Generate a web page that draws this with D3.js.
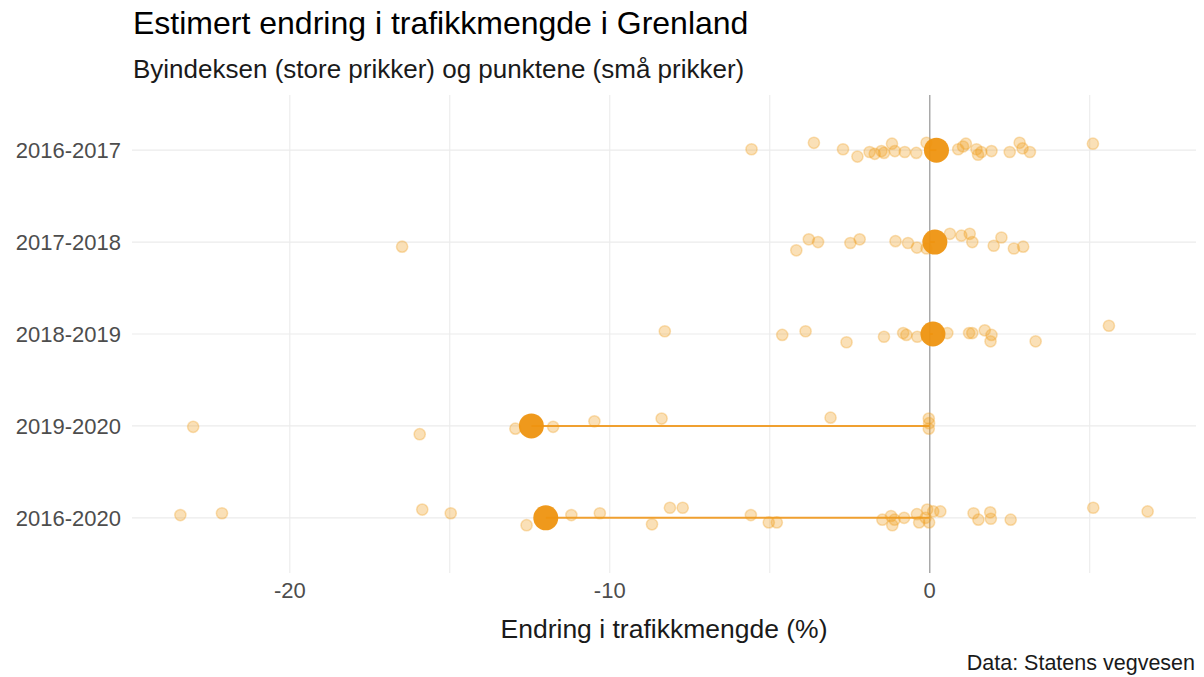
<!DOCTYPE html>
<html>
<head>
<meta charset="utf-8">
<script src="https://cdn.jsdelivr.net/npm/d3@7"></script>
<style>
  body { margin: 0; background: #fff; }
  text { font-family: "Liberation Sans", Arial, sans-serif; }
</style>
</head>
<body>
<svg id="chart" width="1204" height="677"></svg>
<script>
// ---- Data ----
const periods = ["2016-2017", "2017-2018", "2018-2019", "2019-2020", "2016-2020"];
const cityIndex = [0.21, 0.16, 0.10, -12.45, -12.0];

// Small points (traffic registration points), per period, with vertical jitter (row units)
const points1617 = [-5.57, -3.62, -2.71, -2.26, -1.88, -1.72, -1.51, -1.43, -1.18, -1.09, -0.78, -0.42, -0.10, 0.89, 1.04, 1.13, 1.46, 1.51, 1.61, 1.93, 2.5, 2.81, 2.9, 3.13, 5.10];
const jitter1617 = [-0.01, -0.08, -0.01, 0.07, 0.02, 0.04, 0.01, 0.03, -0.07, 0.01, 0.02, 0.03, -0.08, -0.01, -0.04, -0.07, -0.01, 0.05, 0.02, 0.01, 0.02, -0.08, -0.02, 0.02, -0.07];

const points1718 = [-16.49, -4.17, -3.78, -3.49, -2.48, -2.19, -1.07, -0.68, -0.40, -0.10, 0.63, 0.99, 1.25, 1.33, 2.0, 2.24, 2.63, 2.92];
const jitter1718 = [0.05, 0.09, -0.03, 0.0, 0.01, -0.03, -0.01, 0.01, 0.06, 0.07, -0.09, -0.07, -0.09, 0.0, 0.04, -0.05, 0.07, 0.05];

const points1819 = [-8.28, -4.61, -3.88, -2.60, -1.43, -0.83, -0.73, -0.39, 0.55, 1.23, 1.33, 1.72, 1.93, 1.90, 3.31, 5.60];
const jitter1819 = [-0.03, 0.01, -0.03, 0.09, 0.03, -0.01, 0.01, 0.03, -0.01, -0.01, -0.01, -0.04, 0.01, 0.08, 0.08, -0.09];

const points1920 = [-23.02, -15.94, -12.95, -11.77, -10.48, -8.38, -3.10, -0.03, -0.02, -0.03];
const jitter1920 = [0.01, 0.09, 0.03, 0.01, -0.05, -0.08, -0.09, -0.08, -0.03, 0.03];

const points1620 = [-23.42, -22.12, -15.86, -14.97, -12.60, -11.2, -10.31, -8.68, -8.12, -7.72, -5.59, -5.03, -4.78, -1.48, -1.21, -1.17, -1.10, -0.80, -0.40, -0.33, -0.08, -0.02, -0.13, 0.11, 0.33, 1.37, 1.52, 1.89, 1.91, 2.53, 5.11, 6.81];
const jitter1620 = [-0.03, -0.05, -0.09, -0.05, 0.08, -0.03, -0.05, 0.07, -0.11, -0.11, -0.03, 0.05, 0.05, 0.02, -0.02, 0.08, 0.02, 0.0, -0.04, 0.05, -0.09, 0.05, 0.0, -0.07, -0.07, -0.05, 0.02, -0.06, 0.01, 0.02, -0.11, -0.07];

const pointSets = [
  [points1617, jitter1617],
  [points1718, jitter1718],
  [points1819, jitter1819],
  [points1920, jitter1920],
  [points1620, jitter1620]
];

const xTicks = [-20, -10, 0];
const xGrid = [-20, -15, -10, -5, 0, 5];

const title = "Estimert endring i trafikkmengde i Grenland";
const subtitle = "Byindeksen (store prikker) og punktene (små prikker)";
const xTitle = "Endring i trafikkmengde (%)";
const caption = "Data: Statens vegvesen";

// ---- Build ----
const svg = d3.select("#chart");
const panel = { left: 132, right: 1196, top: 95, bottom: 573 };

const smallPts = [];
pointSets.forEach(([vals, jit], i) => {
  vals.forEach((v, k) => smallPts.push({ period: periods[i], value: v, jitter: jit[k] }));
});
const allVals = smallPts.map(d => d.value).concat(cityIndex);
const [mn, mx] = d3.extent(allVals);
const pad = (mx - mn) * 0.05;

const x = d3.scaleLinear().domain([mn - pad, mx + pad]).range([panel.left, panel.right]);
const yIdx = d3.scaleLinear().domain([-0.6, periods.length - 1 + 0.6]).range([panel.top, panel.bottom]);
const y = p => yIdx(periods.indexOf(p));

const g = svg.append("g");
g.selectAll(".vgrid").data(xGrid).join("line")
  .attr("x1", d => x(d)).attr("x2", d => x(d))
  .attr("y1", panel.top).attr("y2", panel.bottom)
  .attr("stroke", "#ebebeb").attr("stroke-width", 1.1);
g.selectAll(".hgrid").data(periods).join("line")
  .attr("x1", panel.left).attr("x2", panel.right)
  .attr("y1", d => y(d)).attr("y2", d => y(d))
  .attr("stroke", "#ebebeb").attr("stroke-width", 1.1);

g.append("line")
  .attr("x1", x(0)).attr("x2", x(0))
  .attr("y1", panel.top).attr("y2", panel.bottom)
  .attr("stroke", "#a6a6a6").attr("stroke-width", 1.4);

g.selectAll(".seg").data(periods).join("line")
  .attr("x1", x(0)).attr("x2", (d, i) => x(cityIndex[i]))
  .attr("y1", d => y(d)).attr("y2", d => y(d))
  .attr("stroke", "#F0A030").attr("stroke-width", 2);

g.selectAll(".pt").data(smallPts).join("circle")
  .attr("cx", d => x(d.value))
  .attr("cy", d => yIdx(periods.indexOf(d.period) + d.jitter))
  .attr("r", 5.6)
  .attr("fill", "#F0A020").attr("fill-opacity", 0.32)
  .attr("stroke", "#F0A020").attr("stroke-opacity", 0.32).attr("stroke-width", 1.5);

g.selectAll(".big").data(periods).join("circle")
  .attr("cx", (d, i) => x(cityIndex[i]))
  .attr("cy", d => y(d))
  .attr("r", 12.5)
  .attr("fill", "#EE9410").attr("fill-opacity", 0.95);

svg.selectAll(".ylab").data(periods).join("text")
  .attr("x", 121).attr("y", d => y(d)).attr("dy", "0.36em")
  .attr("text-anchor", "end").attr("font-size", 22).attr("fill", "#4d4d4d")
  .text(d => d);

svg.selectAll(".xlab").data(xTicks).join("text")
  .attr("x", d => x(d)).attr("y", 598)
  .attr("text-anchor", "middle").attr("font-size", 22).attr("fill", "#4d4d4d")
  .text(d => String(d));

svg.append("text").attr("x", (panel.left + panel.right) / 2).attr("y", 638)
  .attr("text-anchor", "middle").attr("font-size", 26.5).attr("fill", "#1a1a1a")
  .text(xTitle);

svg.append("text").attr("x", 133).attr("y", 34)
  .attr("font-size", 32).attr("fill", "#000").text(title);
svg.append("text").attr("x", 133).attr("y", 78)
  .attr("font-size", 26).attr("fill", "#1a1a1a").text(subtitle);
svg.append("text").attr("x", 1195).attr("y", 670)
  .attr("text-anchor", "end").attr("font-size", 21.5).attr("fill", "#1a1a1a").text(caption);
</script>
</body>
</html>
